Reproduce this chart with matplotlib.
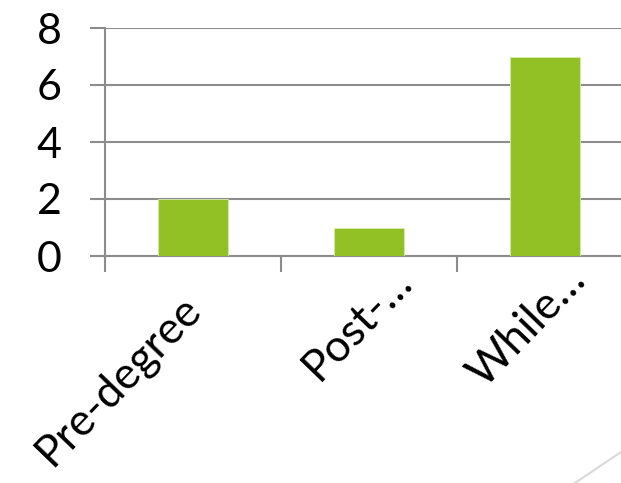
import matplotlib
matplotlib.use("Agg")
import matplotlib.pyplot as plt
from matplotlib.lines import Line2D
from matplotlib.transforms import ScaledTranslation

categories = ["Pre-degree", "Post-…", "While…"]
values = [2, 1, 7]
yticks = [0, 2, 4, 6, 8]

# layout: baseline-end of each rotated label, in pixels relative to (category centre, axis line)
label_anchor_px = [(10, 55), (45, 27), (43, 26)]

W, H = 621, 483
fig = plt.figure(figsize=(W / 100, H / 100), dpi=100)
left, right, bottom, top = 105, 633, 256, 28
ax = fig.add_axes([left / W, (H - bottom) / H, (right - left) / W, (bottom - top) / H])

grid_c = "#8c8c8c"
x = list(range(len(categories)))
ax.bar(x, values, width=0.4, color="#92c125", edgecolor="#d9ecb0", linewidth=0.6, zorder=3)
ax.set_xlim(-0.5, len(categories) - 0.5)
ax.set_ylim(0, 8)
ax.set_yticks(yticks)
ax.set_yticklabels([str(v) for v in yticks])
ax.yaxis.grid(True, color=grid_c, linewidth=1.5, zorder=0)
for s in ["top", "right"]:
    ax.spines[s].set_visible(False)
ax.spines["left"].set_color(grid_c)
ax.spines["left"].set_linewidth(1.5)
ax.spines["bottom"].set_color(grid_c)
ax.spines["bottom"].set_linewidth(1.5)

ax.set_xticks([i - 0.5 for i in range(len(categories) + 1)])
ax.set_xticklabels([""] * (len(categories) + 1))
ax.tick_params(axis="x", which="major", length=11.5, width=1.5, color=grid_c)
ax.tick_params(axis="y", length=11, width=1.5, color=grid_c, labelsize=31, pad=20)
for lab in ax.get_yticklabels():
    lab.set_family("Lato")

for i, cat in enumerate(categories):
    dx, dy = label_anchor_px[i]
    tr = ax.get_xaxis_transform() + ScaledTranslation(dx / 100, -dy / 100, fig.dpi_scale_trans)
    ax.text(i, 0, cat, transform=tr, rotation=46, ha="right", va="baseline",
            rotation_mode="anchor", fontsize=32, family="Lato", clip_on=False)

fig.add_artist(Line2D([575 / W, 1.0], [0, (H - 452) / H], color="#d9d9d9", linewidth=1.5,
                      transform=fig.transFigure))

fig.savefig("out.png", dpi=100)
